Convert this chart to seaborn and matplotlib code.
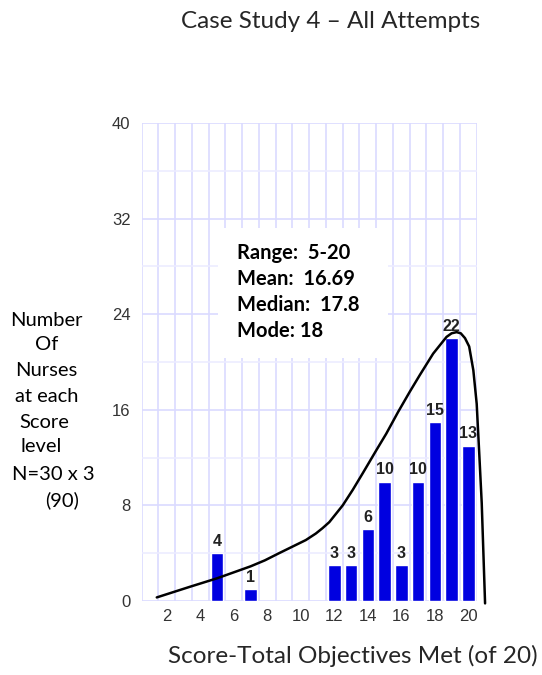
import numpy as np
import pandas as pd
import matplotlib
matplotlib.use('Agg')
import matplotlib.pyplot as plt
from matplotlib.patches import Rectangle
from matplotlib.ticker import MultipleLocator, FixedLocator
import seaborn as sns

# score level -> number of nurses
scores = [5, 7, 12, 13, 14, 15, 16, 17, 18, 19, 20]
counts = [4, 1, 3, 3, 6, 10, 3, 10, 15, 22, 13]

# hand drawn skewed curve
curve_x = [1.4, 2.4, 3.4, 4.2, 5.0, 6.0, 7.0, 7.85, 8.7, 9.5, 10.3, 10.9, 11.3,
           11.7, 12.1, 12.5, 13.1, 13.7, 14.5, 15.1, 15.8, 16.5, 17.1, 17.9,
           18.7, 19.0, 19.3, 19.55, 19.8, 20.05, 20.3, 20.5, 20.65, 20.8, 20.9, 21.0]
curve_y = [0.3, 0.75, 1.2, 1.55, 1.9, 2.4, 2.9, 3.4, 4.0, 4.55, 5.1, 5.65, 6.1,
           6.6, 7.3, 8.0, 9.3, 10.7, 12.6, 14.0, 15.8, 17.5, 18.9, 20.7,
           22.1, 22.4, 22.5, 22.4, 22.0, 21.3, 19.3, 16.5, 12.4, 8.2, 4.0, -0.2]

stats_lines = ['Range:  5-20', 'Mean:  16.69', 'Median:  17.8', 'Mode: 18']
ylabel_lines = ['Number', 'Of', 'Nurses', 'at each', 'Score', 'level', 'N=30 x 3', '(90)']

title = 'Case Study 4 \u2013 All Attempts'
xlabel = 'Score-Total Objectives Met (of 20)'

sns.set_style('white')
plt.rcParams['font.family'] = ['Lato', 'DejaVu Sans']
narrow = 'Liberation Sans'

W, H = 542, 675
fig = plt.figure(figsize=(W / 100, H / 100), dpi=100)
ax = fig.add_axes([141.7 / W, 1 - 601 / H, (476.7 - 141.7) / W, (601 - 123) / H])

df = pd.DataFrame({'score': scores, 'count': counts})
sns.barplot(data=df, x='score', y='count', native_scale=True, width=0.75,
            color='#0000e0', saturation=1, ax=ax, zorder=3)
for s, c in zip(scores, counts):
    ax.annotate(str(c), (s, c), xytext=(0, 3), textcoords='offset points',
                ha='center', va='bottom', fontsize=11.5, fontweight='bold',
                color='#222222', family=narrow, zorder=5)

sns.lineplot(x=curve_x, y=curve_y, sort=False, color='black', lw=1.8,
             ax=ax, zorder=4, clip_on=False)

ax.set_xlim(0.5, 20.5)
ax.set_ylim(0, 40)
for sp in ax.spines.values():
    sp.set_visible(False)

grid_c = '#dadaff'
ax.xaxis.set_major_locator(FixedLocator(range(2, 21, 2)))
ax.xaxis.set_minor_locator(FixedLocator(np.arange(0.5, 20.6, 1)))
ax.yaxis.set_major_locator(MultipleLocator(8))
ax.yaxis.set_minor_locator(MultipleLocator(4))
ax.tick_params(axis='x', which='major', length=0, pad=6, labelsize=12,
               labelcolor='#333333')
ax.tick_params(axis='x', which='minor', length=6, color=grid_c, width=1.2)
ax.tick_params(axis='y', which='major', length=4, color=grid_c, pad=4,
               labelsize=12, labelcolor='#333333')
ax.tick_params(axis='y', which='minor', length=0)
for lab in ax.get_xticklabels() + ax.get_yticklabels():
    lab.set_family(narrow)
ax.grid(True, axis='x', which='minor', color=grid_c, lw=1.2, zorder=0)
ax.grid(True, axis='y', which='major', color=grid_c, lw=1.2, zorder=0)
ax.grid(True, axis='y', which='minor', color='#ececff', lw=1.2, zorder=0)
ax.yaxis.get_gridlines()[-1].set_visible(False)
ax.set_axisbelow(True)
ax.set_xlabel('')
ax.set_ylabel('')

# white stats box over the grid
ax.add_patch(Rectangle((218.3 / W, 1 - 358.3 / H), (388.3 - 218.3) / W,
                       (358.3 - 228.3) / H, transform=fig.transFigure,
                       facecolor='white', edgecolor='none', zorder=2))
for i, line in enumerate(stats_lines):
    fig.text(237 / W, 1 - (253 + 26 * i) / H, line, ha='left', va='center',
             fontsize=14.5, fontweight='bold', color='black')

ylab_pos = [(46.7, 320), (47, 345), (46, 370), (47, 396), (44.5, 422),
            (41, 447), (53, 474), (62, 500)]
for line, (px, py) in zip(ylabel_lines, ylab_pos):
    fig.text(px / W, 1 - py / H, line, ha='center', va='center',
             fontsize=14.5, color='black')

fig.text(331 / W, 1 - 22 / H, title, ha='center', va='center', fontsize=17.5)
fig.text(353 / W, 1 - 656 / H, xlabel, ha='center', va='center', fontsize=17.5)

fig.savefig('out.png', dpi=100)
